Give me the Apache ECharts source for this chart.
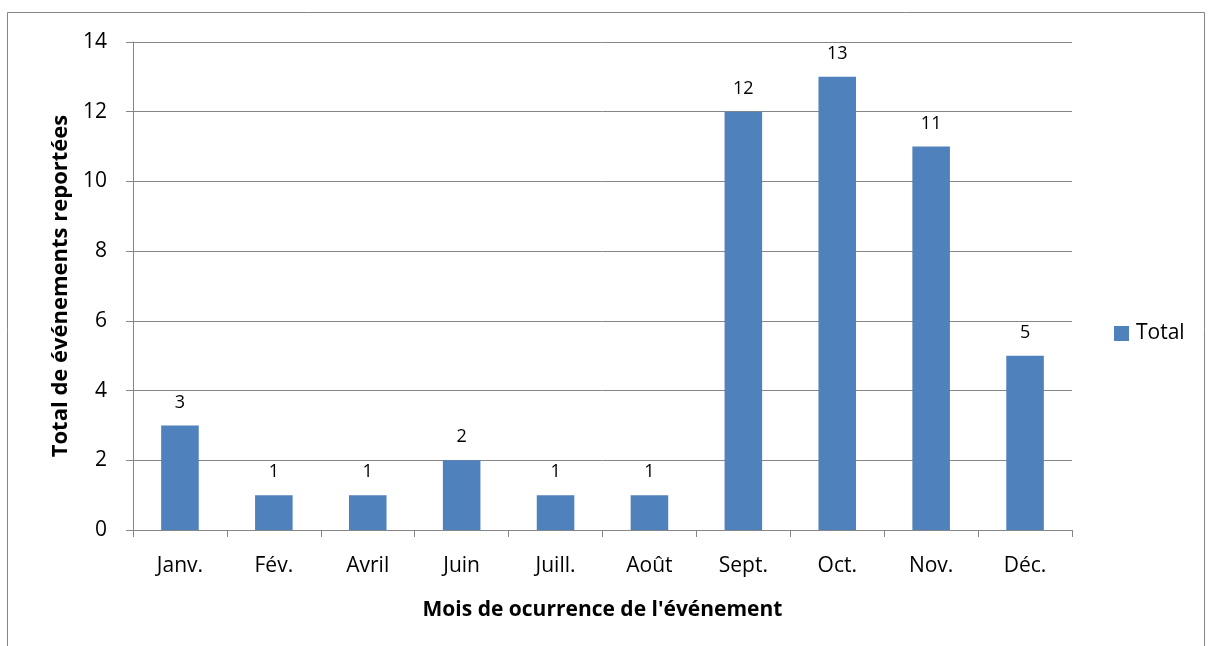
<!DOCTYPE html>
<html>
<head>
<meta charset="utf-8">
<script src="https://cdn.jsdelivr.net/npm/echarts@6/dist/echarts.min.js"></script>
<style>
  html, body { margin: 0; padding: 0; background: #fff; }
  #chart { width: 1213px; height: 646px; }
</style>
</head>
<body>
<div id="chart"></div>
<script>
var months = ['Janv.', 'Fév.', 'Avril', 'Juin', 'Juill.', 'Août', 'Sept.', 'Oct.', 'Nov.', 'Déc.'];
var totals = [3, 1, 1, 2, 1, 1, 12, 13, 11, 5];
var seriesName = 'Total';

var chart = echarts.init(document.getElementById('chart'));
var font = '"Open Sans", "Noto Sans", sans-serif';
var gray = '#868686';

var option = {
  animation: false,
  textStyle: { fontFamily: font, color: '#000' },
  graphic: [{
    type: 'rect',
    shape: { x: 7.5, y: 12.5, width: 1197, height: 700 },
    style: { fill: 'none', stroke: gray, lineWidth: 1 },
    silent: true
  }],
  legend: {
    left: 1109,
    top: 318,
    orient: 'vertical',
    itemWidth: 15,
    itemHeight: 15,
    itemGap: 6,
    icon: 'rect',
    textStyle: { fontSize: 21, fontFamily: font, color: '#000', padding: [0, 0, 0, 2] },
    data: [seriesName]
  },
  grid: { left: 133, right: 141, top: 42, bottom: 116, containLabel: false },
  xAxis: {
    type: 'category',
    data: months,
    name: "Mois de ocurrence de l'événement",
    nameLocation: 'middle',
    nameGap: 70,
    nameTextStyle: { fontSize: 21, fontWeight: 'bold', fontFamily: font, color: '#000' },
    axisLine: { lineStyle: { color: gray, width: 1 } },
    axisTick: { show: true, alignWithLabel: false, length: 7, lineStyle: { color: gray } },
    axisLabel: { fontSize: 21, margin: 26, color: '#000', fontFamily: font }
  },
  yAxis: {
    type: 'value',
    min: 0,
    max: 14,
    interval: 2,
    name: 'Total de événements reportées',
    nameLocation: 'middle',
    nameGap: 60,
    nameTextStyle: { fontSize: 22, fontWeight: 'bold', fontFamily: font, color: '#000' },
    axisLine: { show: true, lineStyle: { color: gray, width: 1 } },
    axisTick: { show: true, length: 7, lineStyle: { color: gray } },
    axisLabel: { fontSize: 21, margin: 26, color: '#000', fontFamily: font },
    splitLine: { lineStyle: { color: gray, width: 1 } }
  },
  series: [{
    name: seriesName,
    type: 'bar',
    data: totals,
    barWidth: '40%',
    itemStyle: { color: '#4F81BD' },
    label: {
      show: true,
      position: 'top',
      distance: 14,
      fontSize: 18,
      color: '#000',
      fontFamily: font
    }
  }]
};

chart.setOption(option);
window.onresize = chart.resize;
</script>
</body>
</html>
